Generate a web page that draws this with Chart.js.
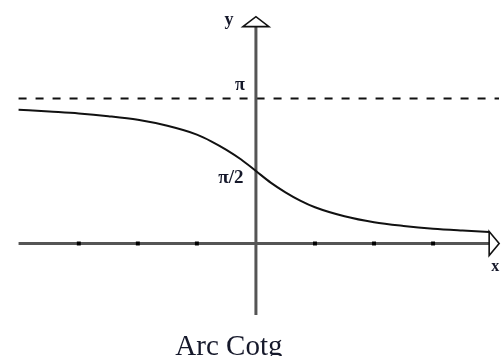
<!DOCTYPE html>
<html>
<head>
  <meta charset="UTF-8">
  <title>Arc Cotg</title>
  <script src="https://cdn.jsdelivr.net/npm/chart.js"></script>
  <style>
    body {
      margin: 0;
      background: #fff;
    }
    canvas {
      display: block;
    }
  </style>
</head>
<body>
  <canvas id="arcChart" width="503" height="356"></canvas>

  <script>
  // arccot(x) samples
  const curveX = [-4.02, -3.5, -3, -2.5, -2, -1.5, -1, -0.75, -0.5, -0.25, 0, 0.25, 0.5, 0.75, 1, 1.5, 2, 2.5, 3, 3.5, 3.95];
  const curveY = [2.90, 2.86, 2.82, 2.76, 2.68, 2.55, 2.36, 2.21, 2.03, 1.82, 1.571, 1.32, 1.11, 0.93, 0.785, 0.59, 0.46, 0.38, 0.32, 0.28, 0.25];

  // axis ticks along x
  const tickX = [-3, -2, -1, 1, 2, 3];

  // horizontal asymptote and axis extents
  const piLevel = 3.1416;
  const xAxisRange = [-4.02, 3.95];
  const yAxisRange = [-1.55, 4.70];

  const labels = { y: 'y', x: 'x', pi: 'π', halfPi: 'π/2', title: 'Arc Cotg' };

  const axisColor = '#555';

  // arrows, axis names and caption
  const decorations = {
    id: 'decorations',
    afterDatasetsDraw(chart) {
      const ctx = chart.ctx;
      const sx = chart.scales.x, sy = chart.scales.y;
      const ox = sx.getPixelForValue(0);
      const oy = sy.getPixelForValue(0);
      const yTop = sy.getPixelForValue(yAxisRange[1]);
      const xEnd = sx.getPixelForValue(xAxisRange[1]);

      ctx.save();
      ctx.lineWidth = 1.6;
      ctx.strokeStyle = '#111';
      ctx.fillStyle = '#fff';
      ctx.lineJoin = 'miter';

      // y arrow head
      ctx.beginPath();
      ctx.moveTo(ox - 13, yTop);
      ctx.lineTo(ox, yTop - 10);
      ctx.lineTo(ox + 13, yTop);
      ctx.closePath();
      ctx.fill();
      ctx.stroke();

      // x arrow head
      ctx.beginPath();
      ctx.moveTo(xEnd, oy - 12);
      ctx.lineTo(xEnd + 10, oy);
      ctx.lineTo(xEnd, oy + 12);
      ctx.closePath();
      ctx.fill();
      ctx.stroke();

      ctx.fillStyle = '#15182a';
      ctx.textAlign = 'center';
      ctx.textBaseline = 'alphabetic';
      ctx.font = 'bold 18px "Liberation Serif"';
      ctx.fillText(labels.y, ox - 27, yTop - 2);
      ctx.fillText(labels.pi, ox - 16, sy.getPixelForValue(piLevel) - 9);
      ctx.font = 'bold 19px "Liberation Serif"';
      ctx.fillText(labels.halfPi, ox - 25, sy.getPixelForValue(piLevel / 2) + 12);
      ctx.font = 'bold 16px "Liberation Serif"';
      ctx.fillText(labels.x, xEnd + 6, oy + 28);

      ctx.font = '29px "Liberation Serif"';
      ctx.fillText(labels.title, ox - 27, 355);
      ctx.restore();
    }
  };

  new Chart(document.getElementById('arcChart'), {
    type: 'scatter',
    data: {
      datasets: [
        {
          label: 'arccot',
          data: curveX.map((x, i) => ({ x: x, y: curveY[i] })),
          showLine: true,
          borderColor: '#111',
          borderWidth: 2,
          pointRadius: 0,
          cubicInterpolationMode: 'monotone',
          order: 0
        },
        {
          label: 'ticks',
          data: tickX.map(x => ({ x: x, y: 0 })),
          pointStyle: 'rect',
          pointRadius: 2.8,
          backgroundColor: '#000',
          borderColor: '#000',
          borderWidth: 0,
          order: 1
        },
        {
          label: 'x axis',
          data: xAxisRange.map(x => ({ x: x, y: 0 })),
          showLine: true,
          borderColor: axisColor,
          borderWidth: 3,
          pointRadius: 0,
          order: 2
        },
        {
          label: 'y axis',
          data: yAxisRange.map(y => ({ x: 0, y: y })),
          showLine: true,
          borderColor: axisColor,
          borderWidth: 3,
          pointRadius: 0,
          order: 2
        },
        {
          label: 'pi',
          data: [{ x: xAxisRange[0], y: piLevel }, { x: 4.3, y: piLevel }],
          showLine: true,
          borderColor: '#111',
          borderWidth: 2,
          borderDash: [8, 9],
          pointRadius: 0,
          order: 3
        }
      ]
    },
    options: {
      responsive: false,
      animation: false,
      devicePixelRatio: 1,
      layout: { padding: 0 },
      plugins: {
        legend: { display: false },
        tooltip: { enabled: false }
      },
      scales: {
        x: { type: 'linear', display: false, min: -256 / 60, max: 247 / 60 },
        y: { type: 'linear', display: false, min: -111 / 47.2, max: 245 / 47.2 }
      }
    },
    plugins: [decorations]
  });
</script>
</body>
</html>
